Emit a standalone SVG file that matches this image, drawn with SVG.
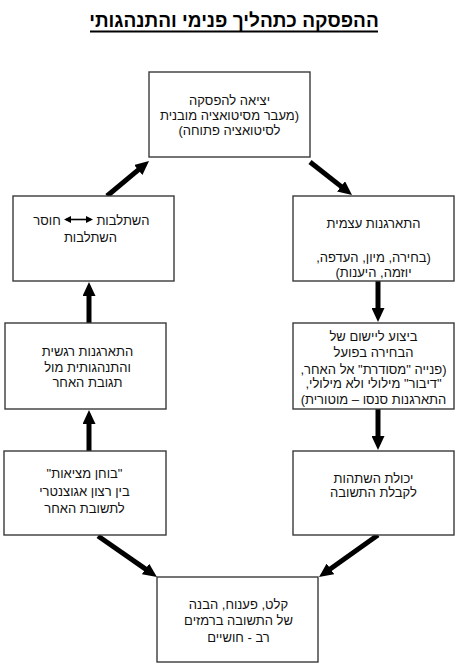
<svg xmlns="http://www.w3.org/2000/svg" width="470" height="667" viewBox="0 0 470 667">
<style>
  .box { fill: #ffffff; stroke: #3a3a3a; stroke-width: 1.4; }
  .t { font-family: "Liberation Sans", Arial, "DejaVu Sans", "Noto Sans", sans-serif; font-size: 13px; fill: #111; text-anchor: middle; direction: rtl; }
  .title { font-family: "Liberation Sans", Arial, "DejaVu Sans", sans-serif; font-size: 19px; font-weight: bold; fill: #000; text-anchor: middle; direction: rtl; }
  .conn { stroke: #000; stroke-width: 5; fill: none; marker-end: url(#head); }
  .dbl { stroke: #000; stroke-width: 1.6; marker-start: url(#sm); marker-end: url(#sm); }
</style>
<defs>
  <marker id="head" markerUnits="userSpaceOnUse" markerWidth="15" markerHeight="13" refX="2" refY="6.5" orient="auto">
    <path d="M0,0 L14,6.5 L0,13 z" fill="#000"/>
  </marker>
  <marker id="sm" markerUnits="userSpaceOnUse" markerWidth="7" markerHeight="7" refX="5" refY="3.5" orient="auto-start-reverse">
    <path d="M0,0 L7,3.5 L0,7 z" fill="#000"/>
  </marker>
</defs>
<rect width="470" height="667" fill="#ffffff"/>

<g id="title">
  <text class="title" x="234" y="27">ההפסקה כתהליך פנימי והתנהגותי</text>
  <line x1="90" y1="31.5" x2="378" y2="31.5" stroke="#000" stroke-width="1.8"/>
</g>

<g id="connectors">
  <line class="conn" x1="107" y1="196" x2="139.8" y2="168.7"/>
  <line class="conn" x1="310" y1="162" x2="342.6" y2="187.6"/>
  <line class="conn" x1="378" y1="281" x2="378" y2="310"/>
  <line class="conn" x1="378" y1="409" x2="378" y2="438"/>
  <line class="conn" x1="378" y1="535" x2="328.8" y2="570"/>
  <line class="conn" x1="98" y1="536" x2="147.1" y2="570.1"/>
  <line class="conn" x1="89" y1="451" x2="89" y2="422"/>
  <line class="conn" x1="89" y1="323" x2="89" y2="294"/>
</g>

<g id="node-exit">
  <rect class="box" x="149" y="72" width="161" height="85"/>
  <text class="t" x="229.5" y="104.5">יציאה להפסקה</text>
  <text class="t" x="229.5" y="120">(מעבר מסיטואציה מובנית</text>
  <text class="t" x="229.5" y="135">לסיטואציה פתוחה)</text>
</g>

<g id="node-self-org">
  <rect class="box" x="293" y="196" width="161" height="85"/>
  <text class="t" x="373.5" y="227.5">התארגנות עצמית</text>
  <text class="t" x="373.5" y="261.5">(בחירה, מיון, העדפה,</text>
  <text class="t" x="373.5" y="276.5">יוזמה, היענות)</text>
</g>

<g id="node-execution">
  <rect class="box" x="293" y="323" width="161" height="86"/>
  <text class="t" x="373.5" y="340.5">ביצוע ליישום של</text>
  <text class="t" x="373.5" y="357">הבחירה בפועל</text>
  <text class="t" x="373.5" y="373.5">(פנייה "מסודרת" אל האחר,</text>
  <text class="t" x="373.5" y="388">"דיבור" מילולי ולא מילולי,</text>
  <text class="t" x="373.5" y="403.5">התארגנות סנסו – מוטורית)</text>
</g>

<g id="node-delay">
  <rect class="box" x="293" y="451" width="161" height="84"/>
  <text class="t" x="373.5" y="482.5">יכולת השתהות</text>
  <text class="t" x="373.5" y="497">לקבלת התשובה</text>
</g>

<g id="node-receive">
  <rect class="box" x="157" y="577" width="161" height="85"/>
  <text class="t" x="238.5" y="608.5">קלט, פענוח, הבנה</text>
  <text class="t" x="238.5" y="625">של התשובה ברמזים</text>
  <text class="t" x="238.5" y="641.5">רב - חושיים</text>
</g>

<g id="node-reality">
  <rect class="box" x="4" y="451" width="162" height="84"/>
  <text class="t" x="84.5" y="477.5">"בוחן מציאות"</text>
  <text class="t" x="84.5" y="495.5">בין רצון אגוצנטרי</text>
  <text class="t" x="84.5" y="512.5">לתשובת האחר</text>
</g>

<g id="node-emotional">
  <rect class="box" x="5" y="323" width="161" height="86"/>
  <text class="t" x="87.5" y="355.5">התארגנות רגשית</text>
  <text class="t" x="87.5" y="371.5">והתנהגותית מול</text>
  <text class="t" x="87.5" y="386.5">תגובת האחר</text>
</g>

<g id="node-integration">
  <rect class="box" x="13" y="196" width="161" height="85"/>
  <text class="t" x="123" y="224.5">השתלבות</text>
  <line class="dbl" x1="66" y1="219.5" x2="91" y2="219.5"/>
  <text class="t" x="47" y="224.5">חוסר</text>
  <text class="t" x="90.5" y="242">השתלבות</text>
</g>
</svg>
